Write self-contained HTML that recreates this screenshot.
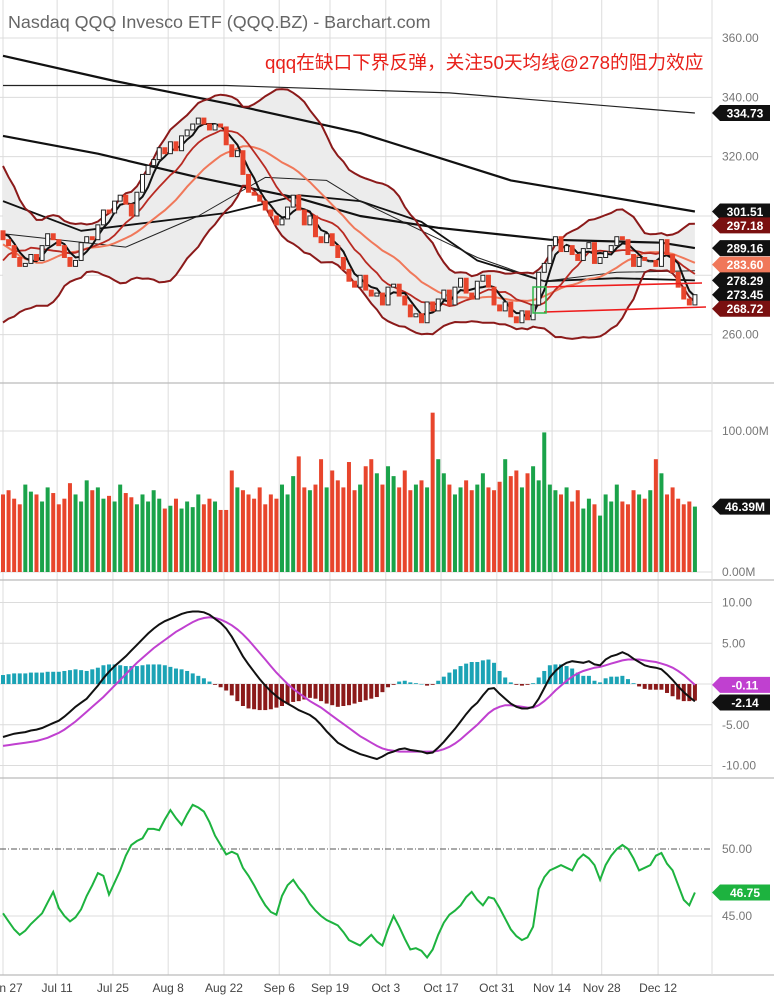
<!DOCTYPE html>
<html><head><meta charset="utf-8"><style>
html,body{margin:0;padding:0;background:#fff;}
svg{display:block;font-family:"Liberation Sans","Noto Sans CJK SC",sans-serif;}
</style></head><body>
<svg id="chart" width="774" height="1000" viewBox="0 0 774 1000" xmlns="http://www.w3.org/2000/svg"></svg>
<script>
// ---------- DATA ----------
const priorCloses=[318,315,310,312,305,298,300,290,282,275,272,270,276,280,283,278,287,293,296,295];
const closes=[292,290,286,283,284,287,285,290,294,292,
290,286,283,285,291,293,292,297,302,301,
305,307,304,300,308,314,317,319,323,321,
325,322,327,329,331,333,331,329,331,330,
324,320,322,314,308,307,305,302,300,297,
299,303,307,302,297,300,293,291,294,290,
286,282,278,276,280,275,273,274,270,276,
277,273,270,266,267,264,271,268,272,275,
270,276,279,274,272,278,280,276,270,268,
271,266,264,268,265,270,281,284,290,293,
288,290,287,285,289,291,284,286,288,290,
293,292,287,283,286,285,285,283,292,287,
281,276,272,270,273.45];
const volumes=[55,58,52,48,62,57,55,50,60,56,
48,52,63,55,50,65,58,60,52,54,
50,62,56,53,48,55,50,58,52,45,
47,52,45,50,46,55,48,52,50,44,
44,72,60,58,55,52,60,48,55,52,
62,55,68,82,60,58,62,80,60,72,
65,60,78,58,62,75,80,70,62,75,
68,60,72,58,62,65,60,113,80,70,
62,55,60,65,58,62,70,60,58,64,
80,68,72,60,70,75,65,99,62,58,
55,60,50,58,45,52,48,40,55,50,
62,50,48,58,55,52,58,80,70,55,
60,52,48,50,46.39];
const macdLine=[-6.5,-6.3,-6.1,-6.0,-5.9,-5.7,-5.6,-5.4,-5.1,-4.8,
-4.5,-4.0,-3.4,-2.8,-2.3,-1.8,-1.0,-0.2,0.7,1.5,
2.2,2.8,3.4,4.1,4.8,5.5,6.2,6.8,7.3,7.7,
8.0,8.3,8.6,8.8,8.9,8.9,8.8,8.5,8.0,7.5,
6.8,5.8,4.6,3.4,2.4,1.5,0.6,-0.2,-0.9,-1.5,
-2.0,-2.4,-2.8,-3.2,-3.5,-3.8,-4.3,-5.0,-5.8,-6.5,
-7.2,-7.6,-8.0,-8.3,-8.6,-8.8,-9.0,-9.2,-8.9,-8.5,
-8.3,-8.0,-7.9,-8.1,-8.2,-8.3,-8.5,-8.4,-7.8,-7.1,
-6.3,-5.5,-4.6,-3.7,-2.9,-2.3,-1.4,-0.6,-0.5,-1.2,
-1.8,-2.4,-2.8,-3.0,-3.0,-2.8,-1.8,-0.5,0.8,1.6,
2.2,2.6,2.8,2.7,2.6,2.8,2.4,2.3,3.0,3.4,
3.6,3.9,3.6,3.1,2.7,2.3,2.1,2.0,1.8,1.2,
0.5,-0.3,-1.0,-1.6,-2.14];
const signalLine=[-7.6,-7.5,-7.4,-7.3,-7.2,-7.1,-7.0,-6.8,-6.6,-6.3,
-6.0,-5.6,-5.1,-4.6,-4.0,-3.4,-2.8,-2.2,-1.6,-0.9,
-0.2,0.5,1.2,1.9,2.6,3.2,3.8,4.4,4.9,5.4,
5.9,6.4,6.8,7.2,7.6,7.9,8.1,8.2,8.1,7.9,
7.6,7.2,6.7,6.1,5.4,4.6,3.8,3.0,2.2,1.4,
0.7,0.0,-0.6,-1.1,-1.6,-2.1,-2.5,-2.9,-3.4,-3.9,
-4.4,-4.9,-5.4,-5.9,-6.4,-6.8,-7.2,-7.6,-7.9,-8.1,
-8.2,-8.3,-8.3,-8.3,-8.3,-8.3,-8.3,-8.3,-8.2,-8.0,
-7.7,-7.3,-6.8,-6.2,-5.6,-5.0,-4.3,-3.6,-3.1,-2.8,
-2.6,-2.6,-2.7,-2.8,-2.9,-2.9,-2.6,-2.1,-1.5,-0.8,
-0.2,0.4,0.9,1.3,1.6,1.8,2.0,2.1,2.3,2.5,
2.7,2.9,3.0,3.0,3.0,2.9,2.8,2.7,2.5,2.3,
2.0,1.6,1.1,0.5,-0.11];
const rsiLine=[45.2,44.6,44.0,43.6,43.9,44.4,44.8,45.2,46.0,46.8,
45.6,45.0,44.6,44.9,45.5,46.5,47.3,48.2,48.0,46.6,
47.5,48.4,49.5,50.3,50.6,50.8,51.5,51.5,51.4,52.2,
52.9,52.3,51.8,52.6,53.3,53.1,52.8,52.0,51.0,50.3,
49.6,49.8,49.6,48.6,48.0,47.3,46.5,45.8,45.3,45.1,
46.5,47.3,47.7,47.1,46.6,45.9,45.4,45.0,44.7,44.5,
44.3,43.8,43.2,43.0,42.8,43.2,43.6,43.1,42.8,44.0,
45.0,44.2,43.3,42.5,42.6,42.4,41.9,42.5,43.6,44.5,
45.1,45.4,45.8,46.4,46.8,46.2,45.8,46.4,46.3,45.6,
44.8,44.0,43.5,43.2,43.4,44.2,47.0,47.9,48.4,48.6,
48.8,48.6,48.4,49.2,49.6,49.3,48.8,47.7,48.8,49.5,
50.0,50.3,50.0,49.3,48.4,48.6,48.8,49.5,49.7,48.9,
48.4,47.3,46.2,45.8,46.75];
const ma200Idx=[0,40,80,124], ma200Val=[344,344,341.5,334.73];
const ma100Idx=[0,20,40,64,91,124], ma100Val=[354,345.5,338,328,312,301.51];
const ma50Idx=[0,17,35,53,64,78,98,118,124], ma50Val=[327,321,313,306,300,296,292,291,289.16];
const maCIdx=[0,14,40,53,64,75,85,97,110,124], maCVal=[305,295,301,307,305,298,285,278,279,278.29];
const maDIdx=[0,22,35,47,58,64,75,85,97,110,124], maDVal=[294,289.5,300,313,312,305,295,286,278,281,281.5];
const tickLabels=["n 27","Jul 11","Jul 25","Aug 8","Aug 22","Sep 6","Sep 19","Oct 3","Oct 17","Oct 31","Nov 14","Nov 28","Dec 12"];
const tickBars=[0,9.7,19.7,29.6,39.6,49.5,58.6,68.6,78.5,88.5,98.4,107.3,117.4];
const priceTicks=[360,340,320,300,280,260];
const priceTickShown=[360,340,320,260];
const macdTicks=[10,5,-5,-10];
const rsiTicks=[50,45];

// ---------- SCALES ----------
const NS="http://www.w3.org/2000/svg";
const svg=document.getElementById('chart');
const PR=712;
const bx=i=>3+5.58*i;
const py=p=>38+(360-p)*2.966;
const vy=v=>572-v*1.41;
const my=m=>684-m*8.15;
const ry=r=>849+(50-r)*13.4;
function mk(tag,attrs,parent){const e=document.createElementNS(NS,tag);for(const k in attrs)e.setAttribute(k,attrs[k]);(parent||svg).appendChild(e);return e;}
function txt(s,x,y,attrs,parent){const t=mk('text',Object.assign({x:x,y:y},attrs),parent);t.textContent=s;return t;}

// ---------- GRID ----------
const grid=mk('g',{stroke:'#dcdcdc','stroke-width':1});


tickBars.forEach(b=>{mk('line',{x1:bx(b),x2:bx(b),y1:0,y2:975},grid);});
priceTicks.forEach(p=>mk('line',{x1:0,x2:PR,y1:py(p),y2:py(p)},grid));
mk('line',{x1:0,x2:PR,y1:vy(100),y2:vy(100)},grid);
mk('line',{x1:0,x2:PR,y1:vy(0),y2:vy(0)},grid);
macdTicks.concat([0]).forEach(m=>mk('line',{x1:0,x2:PR,y1:my(m),y2:my(m)},grid));
mk('line',{x1:0,x2:PR,y1:ry(45),y2:ry(45)},grid);
[383,580,778,975].forEach(y=>{const l=mk('line',{x1:0,x2:774,y1:y,y2:y,stroke:'#bbb','stroke-width':1.2});

});
const rb=mk('line',{x1:PR,x2:PR,y1:0,y2:975,stroke:'#ddd'});



// ---------- INDICATORS ----------
const all=priorCloses.concat(closes);
const N=closes.length, P=priorCloses.length;
function sma(n,i){let s=0,c=0;for(let k=Math.max(0,i+P-n+1);k<=i+P;k++){s+=all[k];c++;}return s/c;}
function sd(n,i){const m=sma(n,i);let s=0,c=0;for(let k=Math.max(0,i+P-n+1);k<=i+P;k++){s+=(all[k]-m)**2;c++;}return Math.sqrt(s/c);}
const upper=[],lower=[],mid=[],ma10=[],ma5=[];
for(let i=0;i<N;i++){const m=sma(20,i),s=sd(20,i);mid.push(m);upper.push(m+2*s);lower.push(m-2*s);ma10.push(sma(10,i));ma5.push(sma(4,i));}
function pts(arr,yf){return arr.map((v,i)=>bx(i).toFixed(1)+','+yf(v).toFixed(1)).join(' ');}
function spts(idx,val,yf){return idx.map((b,i)=>bx(b).toFixed(1)+','+yf(val[i]).toFixed(1)).join(' ');}

const bandPts=upper.map((v,i)=>bx(i)+','+py(v)).concat(lower.map((v,i)=>bx(i)+','+py(v)).reverse()).join(' ');
const band=mk('polygon',{points:bandPts,fill:'#ececec'});


let l;
l=mk('polyline',{points:spts(ma200Idx,ma200Val,py),fill:'none',stroke:'#222','stroke-width':1.2});


l=mk('polyline',{points:spts(ma100Idx,ma100Val,py),fill:'none',stroke:'#111','stroke-width':2.2,'stroke-linejoin':'round'});


l=mk('polyline',{points:spts(ma50Idx,ma50Val,py),fill:'none',stroke:'#111','stroke-width':2.2,'stroke-linejoin':'round'});


l=mk('polyline',{points:spts(maCIdx,maCVal,py),fill:'none',stroke:'#111','stroke-width':1.8,'stroke-linejoin':'round'});


l=mk('polyline',{points:spts(maDIdx,maDVal,py),fill:'none',stroke:'#222','stroke-width':1,'stroke-linejoin':'round'});


l=mk('polyline',{points:pts(upper,py),fill:'none',stroke:'#8b1a1a','stroke-width':2});


l=mk('polyline',{points:pts(lower,py),fill:'none',stroke:'#8b1a1a','stroke-width':2});


l=mk('polyline',{points:pts(mid,py),fill:'none',stroke:'#f0785a','stroke-width':2});


l=mk('polyline',{points:pts(ma10,py),fill:'none',stroke:'#b82a22','stroke-width':1.8});


l=mk('polyline',{points:pts(ma5,py),fill:'none',stroke:'#111','stroke-width':2});



const cg=mk('g',{});


closes.forEach((c,i)=>{
  const o=i===0?priorCloses[P-1]:closes[i-1];
  const up=c>=o;
  const y1=py(Math.max(o,c)),y2=py(Math.min(o,c));
  const r=mk('rect',{x:bx(i)-2,y:y1,width:4,height:Math.max(1.2,y2-y1),fill:up?'#fff':'#e8452c',stroke:up?'#222':'#e8452c','stroke-width':1},cg);
  
  
});
l=mk('line',{x1:545,y1:287,x2:702,y2:283,stroke:'#ee1c1c','stroke-width':1.6});


l=mk('line',{x1:544,y1:312,x2:706,y2:307,stroke:'#ee1c1c','stroke-width':1.6});


l=mk('rect',{x:533,y:287,width:13,height:26,fill:'none',stroke:'#2db84a','stroke-width':1.5});



// ---------- VOLUME ----------
const vg=mk('g',{});


volumes.forEach((v,i)=>{
  const prev=i===0?priorCloses[P-1]:closes[i-1];
  const r=mk('rect',{x:bx(i)-2,y:vy(v),width:4,height:vy(0)-vy(v),fill:closes[i]>=prev?'#1aa34a':'#e8452c'},vg);
  
  
});

// ---------- MACD ----------
const hg=mk('g',{});


macdLine.forEach((m,i)=>{
  const h=m-signalLine[i];
  const y=Math.min(my(0),my(h));
  const r=mk('rect',{x:bx(i)-2,y:y,width:4,height:Math.max(0.5,Math.abs(my(h)-my(0))),fill:h>=0?'#1ba3b5':'#8b1a1a'},hg);
  
  
});
l=mk('polyline',{points:pts(signalLine,my),fill:'none',stroke:'#c040d0','stroke-width':2});


l=mk('polyline',{points:pts(macdLine,my),fill:'none',stroke:'#111','stroke-width':2});



// ---------- RSI ----------
l=mk('line',{x1:0,x2:PR,y1:ry(50),y2:ry(50),stroke:'#555','stroke-width':1,'stroke-dasharray':'6,2,1,2'});


l=mk('polyline',{points:pts(rsiLine,ry),fill:'none',stroke:'#1db33f','stroke-width':2});



// ---------- AXES TEXT ----------
const ax={fill:'#777','font-size':12};
priceTickShown.forEach(p=>{const t=txt(p.toFixed(2),722,py(p)+4,ax);

});
let t;
t=txt('100.00M',722,vy(100)+4,ax);


t=txt('0.00M',722,vy(0)+4,ax);


macdTicks.forEach(m=>{const t2=txt(m.toFixed(2),722,my(m)+4,ax);

});
rsiTicks.forEach(r=>{const t2=txt(r.toFixed(2),722,ry(r)+4,ax);

});
tickLabels.forEach((s,i)=>{const t2=txt(s,i===0?11:bx(tickBars[i]),992,{fill:'#444','font-size':12,'text-anchor':'middle'});

});

function tag(val,y,bg,name){
  const g=mk('g',{});
  
  
  mk('polygon',{points:`712,${y} 720,${y-8} 770,${y-8} 770,${y+8} 720,${y+8}`,fill:bg},g);
  txt(val,745,y+4.5,{fill:'#fff','font-size':12,'font-weight':'bold','text-anchor':'middle'},g);
}
tag('283.60',py(283.6),'#f0785a','ma-20-tag');
tag('334.73',py(334.73),'#111','ma-200-tag');
tag('301.51',py(301.51),'#111','ma-100-tag');
tag('297.18',py(297.18)+1,'#7a1010','bollinger-upper-tag');
tag('289.16',py(289.16),'#111','ma-50-tag');
tag('278.29',py(278.29),'#111','ma-30-tag');
tag('273.45',py(273.45),'#111','last-price-tag');
tag('268.72',py(268.72),'#7a1010','bollinger-lower-tag');
tag('46.39M',vy(46.39),'#111','volume-tag');
tag('-0.11',my(-0.11),'#c040d0','macd-signal-tag');
tag('-2.14',my(-2.14)+1,'#111','macd-tag');
tag('46.75',ry(46.75),'#1db33f','rsi-tag');

t=txt('Nasdaq QQQ Invesco ETF (QQQ.BZ) - Barchart.com',8,28,{fill:'#666','font-size':17.9});


t=txt('qqq在缺口下界反弹，关注50天均线@278的阻力效应',265,69,{fill:'#e8201a','font-size':18.7});


</script>
</body></html>
